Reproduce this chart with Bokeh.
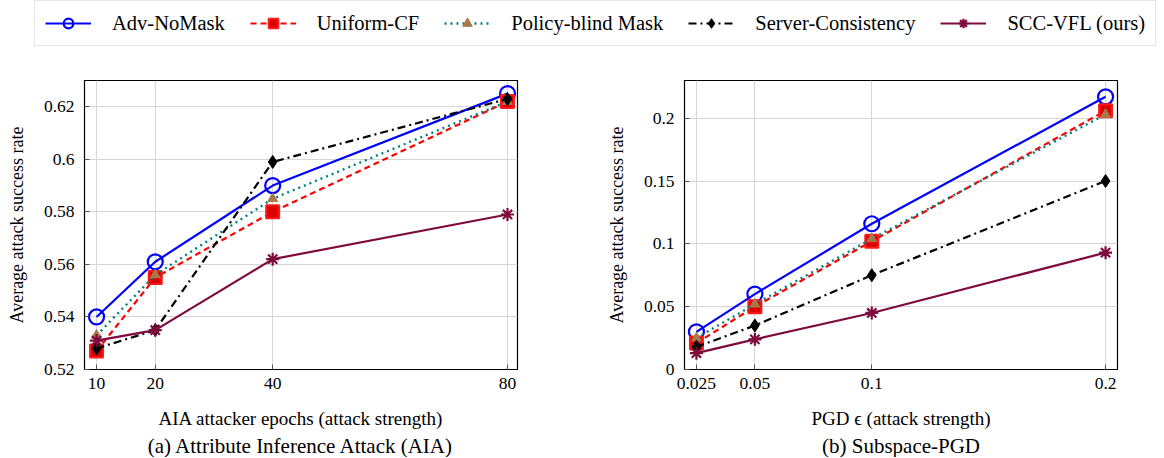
from bokeh.plotting import figure
from bokeh.models import Range1d, FixedTicker, Legend, LegendItem, Title
from bokeh.layouts import column, row
from bokeh.embed import file_html
from bokeh.resources import INLINE

# ---------------- data ----------------
series_names = ["Adv-NoMask", "Uniform-CF", "Policy-blind Mask", "Server-Consistency", "SCC-VFL (ours)"]

aia_epochs = [10, 20, 40, 80]
aia_adv_nomask = [0.540, 0.561, 0.590, 0.625]
aia_uniform_cf = [0.527, 0.555, 0.580, 0.622]
aia_policy_blind = [0.533, 0.556, 0.585, 0.622]
aia_server_cons = [0.528, 0.535, 0.599, 0.623]
aia_scc_vfl = [0.531, 0.535, 0.562, 0.579]
aia_yticks = [0.52, 0.54, 0.56, 0.58, 0.60, 0.62]
aia_ytick_labels = ["0.52", "0.54", "0.56", "0.58", "0.6", "0.62"]

pgd_eps = [0.025, 0.05, 0.1, 0.2]
pgd_xtick_labels = ["0.025", "0.05", "0.1", "0.2"]
pgd_adv_nomask = [0.030, 0.060, 0.116, 0.217]
pgd_uniform_cf = [0.021, 0.050, 0.102, 0.206]
pgd_policy_blind = [0.025, 0.052, 0.104, 0.203]
pgd_server_cons = [0.018, 0.035, 0.075, 0.150]
pgd_scc_vfl = [0.013, 0.024, 0.045, 0.093]
pgd_yticks = [0.0, 0.05, 0.1, 0.15, 0.2]
pgd_ytick_labels = ["0", "0.05", "0.1", "0.15", "0.2"]

aia_series = [aia_adv_nomask, aia_uniform_cf, aia_policy_blind, aia_server_cons, aia_scc_vfl]
pgd_series = [pgd_adv_nomask, pgd_uniform_cf, pgd_policy_blind, pgd_server_cons, pgd_scc_vfl]

# ---------------- styles ----------------
FONT = "Liberation Serif"
styles = [
    dict(line=dict(line_color="#0000ff", line_width=2.2),
         marker=dict(marker="circle", size=15, line_color="#0000ff", line_width=2.2, fill_color=None)),
    dict(line=dict(line_color="#ff0000", line_width=2.2, line_dash="6 4"),
         marker=dict(marker="square", size=13, line_color="#ff1a1a", line_width=2, fill_color="#dd0000")),
    dict(line=dict(line_color="#008080", line_width=2.4, line_dash="2 4"),
         marker=dict(marker="triangle", size=10, line_color="#a8784a", line_width=1, fill_color="#a8784a")),
    dict(line=dict(line_color="#000000", line_width=2.2, line_dash="8 4 2 4"),
         marker=dict(marker="diamond", size=13, line_color="#000000", line_width=1, fill_color="#000000")),
    dict(line=dict(line_color="#7f0a3c", line_width=2.2),
         marker=dict(marker="asterisk", size=13, line_color="#7f0a3c", line_width=2.2)),
]


def make_plot(xs, ys_list, xr, yr, xticks, yticks, ytick_labels, xtick_labels,
              xlabel, caption, border_left, border_right):
    p = figure(frame_width=433, frame_height=289, x_range=Range1d(*xr), y_range=Range1d(*yr),
               toolbar_location=None, output_backend="svg",
               min_border_left=border_left, min_border_right=border_right,
               min_border_top=30, min_border_bottom=0)
    for ys, st in zip(ys_list, styles):
        p.line(xs, ys, **st["line"])
        p.scatter(xs, ys, **st["marker"])
    p.xaxis.ticker = FixedTicker(ticks=xticks)
    p.yaxis.ticker = FixedTicker(ticks=yticks)
    p.yaxis.major_label_overrides = {t: s for t, s in zip(yticks, ytick_labels)}
    if xtick_labels is not None:
        p.xaxis.major_label_overrides = {t: s for t, s in zip(xticks, xtick_labels)}
    for ax in (p.xaxis[0], p.yaxis[0]):
        ax.major_label_text_font = FONT
        ax.major_label_text_font_size = "17.5px"
        ax.major_label_text_color = "#000000"
        ax.axis_label_text_font = FONT
        ax.axis_label_text_font_style = "normal"
        ax.axis_label_text_color = "#000000"
        ax.axis_line_color = "#000000"
        ax.major_tick_in = 5
        ax.major_tick_out = 0
        ax.major_tick_line_color = "#555555"
        ax.minor_tick_line_color = None
    p.xaxis.axis_label_text_font_size = "19px"
    p.yaxis.axis_label_text_font_size = "18px"
    p.xaxis.major_label_standoff = 8
    p.yaxis.major_label_standoff = 10
    p.xaxis.axis_label = xlabel
    p.yaxis.axis_label = "Average attack success rate"
    p.xaxis.axis_label_standoff = 16
    p.yaxis.axis_label_standoff = 14
    p.grid.grid_line_color = "#d6d6d6"
    p.grid.grid_line_width = 1
    p.outline_line_color = "#000000"
    p.outline_line_width = 1.2
    cap = Title(text=caption, align="center", text_font=FONT, text_font_size="21px",
                text_font_style="normal", text_color="#000000", standoff=0)
    p.add_layout(cap, "below")
    return p


p1 = make_plot(aia_epochs, aia_series,
               (7.95, 81.7), (0.52, 0.63), aia_epochs, aia_yticks, aia_ytick_labels, None,
               "AIA attacker epochs (attack strength)", "(a) Attribute Inference Attack (AIA)", 84, 65)
p2 = make_plot(pgd_eps, pgd_series,
               (0.0199, 0.2051), (0.0, 0.23), pgd_eps, pgd_yticks, pgd_ytick_labels, pgd_xtick_labels,
               "PGD \u03f5 (attack strength)", "(b) Subspace-PGD", 102, 31)

# ---------------- legend strip ----------------
# The legend renderers reuse the AIA data, which lies outside this strip's ranges,
# so only the legend entries are visible.
top = figure(width=1156, height=50, x_range=Range1d(0, 1), y_range=Range1d(0, 1),
             toolbar_location=None, output_backend="svg", min_border=0,
             x_axis_location=None, y_axis_location=None)
top.grid.visible = False
top.outline_line_color = None
items = []
for name, ys, st in zip(series_names, aia_series, styles):
    l = top.line(aia_epochs, ys, **st["line"])
    s = top.scatter(aia_epochs, ys, **st["marker"])
    items.append(LegendItem(label=name, renderers=[l, s]))
legend = Legend(items=items, orientation="horizontal", location=(34, 4),
                glyph_width=46, glyph_height=24, label_height=24, label_standoff=21, spacing=25,
                padding=10, margin=0, label_text_font=FONT, label_text_font_size="20.5px",
                label_text_color="#000000", border_line_color="#cccccc", border_line_width=1.5,
                background_fill_alpha=1.0)
top.add_layout(legend, "center")

layout = column(top, row(p1, p2, spacing=0), spacing=0)
open("out.html", "w").write(file_html(layout, INLINE))
